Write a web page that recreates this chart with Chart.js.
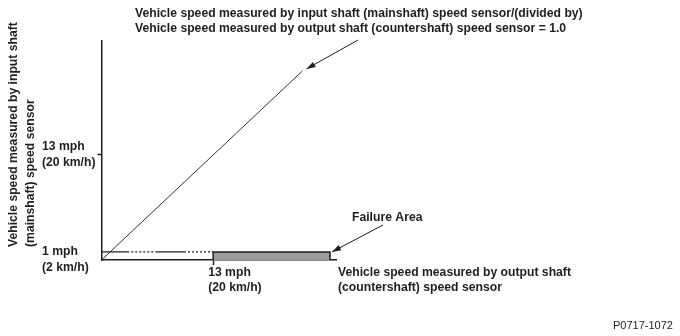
<!DOCTYPE html>
<html>
<head>
<meta charset="utf-8">
<script src="https://cdn.jsdelivr.net/npm/chart.js@4/dist/chart.umd.min.js"></script>
<style>
  html, body { margin: 0; padding: 0; background: #fff; }
  #wrap { width: 680px; height: 336px; position: relative; }
</style>
</head>
<body>
<div id="wrap"><canvas id="c" width="680" height="336"></canvas></div>
<script>
// ---- data (mph) ----
const diagX = [0, 23.4];
const diagY = [0, 23.4];
const thresholdX = [0, 3.0, 6.3, 9.6, 13];
const thresholdY = [1, 1, 1, 1, 1];
const failX = [13, 13, 26.6, 26.6];
const failY = [0, 1, 1, 0];
const xTickValues = [13];
const xTickLabels = [["13 mph", "(20 km/h)"]];
const yTickValues = [1, 13];
const yTickLabels = [["", "1 mph", "(2 km/h)"], ["13 mph", "(20 km/h)"]];
const xMax = 27.3;
const yMax = 27.1;

const topTitle = ["Vehicle speed measured by input shaft (mainshaft) speed sensor/(divided by)",
                  "Vehicle speed measured by output shaft (countershaft) speed sensor = 1.0"];
const xTitle = ["Vehicle speed measured by output shaft", "(countershaft) speed sensor"];
const yTitle = ["Vehicle speed measured by input shaft", "(mainshaft) speed sensor"];
const failLabel = "Failure Area";
const figId = "P0717-1072";

const INK = '#1e1e1e';
const FONT = '"Liberation Sans", Arial, sans-serif';
Chart.defaults.font.family = FONT;
Chart.defaults.font.size = 12;
Chart.defaults.font.weight = 'bold';
Chart.defaults.color = INK;

const pts = (xs, ys) => xs.map((x, i) => ({x: x, y: ys[i]}));

function arrow(ctx, x1, y1, x2, y2) {
  ctx.save();
  ctx.strokeStyle = INK; ctx.fillStyle = INK; ctx.lineWidth = 1;
  ctx.beginPath(); ctx.moveTo(x1, y1); ctx.lineTo(x2, y2); ctx.stroke();
  const a = Math.atan2(y2 - y1, x2 - x1), L = 9, W = 3;
  ctx.beginPath();
  ctx.moveTo(x2, y2);
  ctx.lineTo(x2 - L * Math.cos(a) + W * Math.sin(a), y2 - L * Math.sin(a) - W * Math.cos(a));
  ctx.lineTo(x2 - L * Math.cos(a) - W * Math.sin(a), y2 - L * Math.sin(a) + W * Math.cos(a));
  ctx.closePath(); ctx.fill();
  ctx.restore();
}

const annot = {
  id: 'annot',
  afterDraw(chart) {
    const ctx = chart.ctx, xs = chart.scales.x, ys = chart.scales.y;
    ctx.save();
    ctx.fillStyle = INK;
    ctx.font = 'bold 12.2px ' + FONT;
    ctx.textAlign = 'left'; ctx.textBaseline = 'middle';
    // top title
    ctx.fillText(topTitle[0], 135, 14);
    ctx.fillText(topTitle[1], 135, 29);
    // x title
    ctx.fillText(xTitle[0], 338, 273);
    ctx.fillText(xTitle[1], 338, 288);
    // failure label
    ctx.fillText(failLabel, 352, 218);
    // y title (rotated)
    ctx.save();
    ctx.translate(14, 247); ctx.rotate(-Math.PI / 2);
    ctx.fillText(yTitle[0], 0, 0);
    ctx.fillText(yTitle[1], 0, 17);
    ctx.restore();
    // figure id
    ctx.font = 'normal 11px ' + FONT;
    ctx.fillText(figId, 613, 326);
    ctx.restore();
    // arrows
    const ex = xs.getPixelForValue(diagX[diagX.length - 1]);
    const ey = ys.getPixelForValue(diagY[diagY.length - 1]);
    arrow(ctx, 358, 40, ex + 4, ey - 2);
    const fx = xs.getPixelForValue(failX[2]);
    const fy = ys.getPixelForValue(failY[2]);
    arrow(ctx, 383, 225, fx + 2, fy);
  }
};

new Chart(document.getElementById('c'), {
  type: 'line',
  data: {
    datasets: [
      {
        data: pts(failX, failY),
        borderColor: INK, borderWidth: 1.5,
        backgroundColor: '#9c9c9c', fill: 'origin',
        pointRadius: 0, tension: 0
      },
      {
        data: pts(thresholdX, thresholdY),
        borderColor: INK, borderWidth: 1.2,
        pointRadius: 0, fill: false, tension: 0,
        segment: { borderDash: c => (c.p0DataIndex % 2 === 1 ? [2, 2] : []) }
      },
      {
        data: pts(diagX, diagY),
        borderColor: '#333', borderWidth: 1,
        pointRadius: 0, fill: false, tension: 0
      }
    ]
  },
  options: {
    responsive: false,
    animation: false,
    layout: { padding: { left: 42, top: 41, right: 344, bottom: 30 } },
    plugins: { legend: { display: false }, tooltip: { enabled: false }, title: { display: false } },
    scales: {
      x: {
        type: 'linear', min: 0, max: xMax,
        afterBuildTicks: s => { s.ticks = xTickValues.map(v => ({value: v})); },
        afterFit: s => { s.height = 46; },
        ticks: {
          autoSkip: false, maxRotation: 0, align: 'start', labelOffset: -5, padding: 0,
          callback: (v) => { const i = xTickValues.indexOf(v); return i >= 0 ? xTickLabels[i] : ''; },
          font: { size: 12.2, weight: 'bold', lineHeight: 1.25 }, color: INK
        },
        grid: { drawOnChartArea: false, tickLength: 5, tickColor: INK, tickWidth: 1.5 },
        border: { display: true, color: INK, width: 1.5 }
      },
      y: {
        type: 'linear', min: 0, max: yMax,
        afterBuildTicks: s => { s.ticks = yTickValues.map(v => ({value: v})); },
        ticks: {
          autoSkip: false, crossAlign: 'far', padding: 1,
          callback: (v) => { const i = yTickValues.indexOf(v); return i >= 0 ? yTickLabels[i] : ''; },
          font: { size: 12.2, weight: 'bold', lineHeight: 1.3 }, color: INK
        },
        grid: {
          drawOnChartArea: false, tickLength: 4, tickWidth: 1.5,
          tickColor: c => (c.tick && c.tick.value === 13 ? INK : 'rgba(0,0,0,0)')
        },
        border: { display: true, color: INK, width: 1.5 }
      }
    }
  },
  plugins: [annot]
});
</script>
</body>
</html>
